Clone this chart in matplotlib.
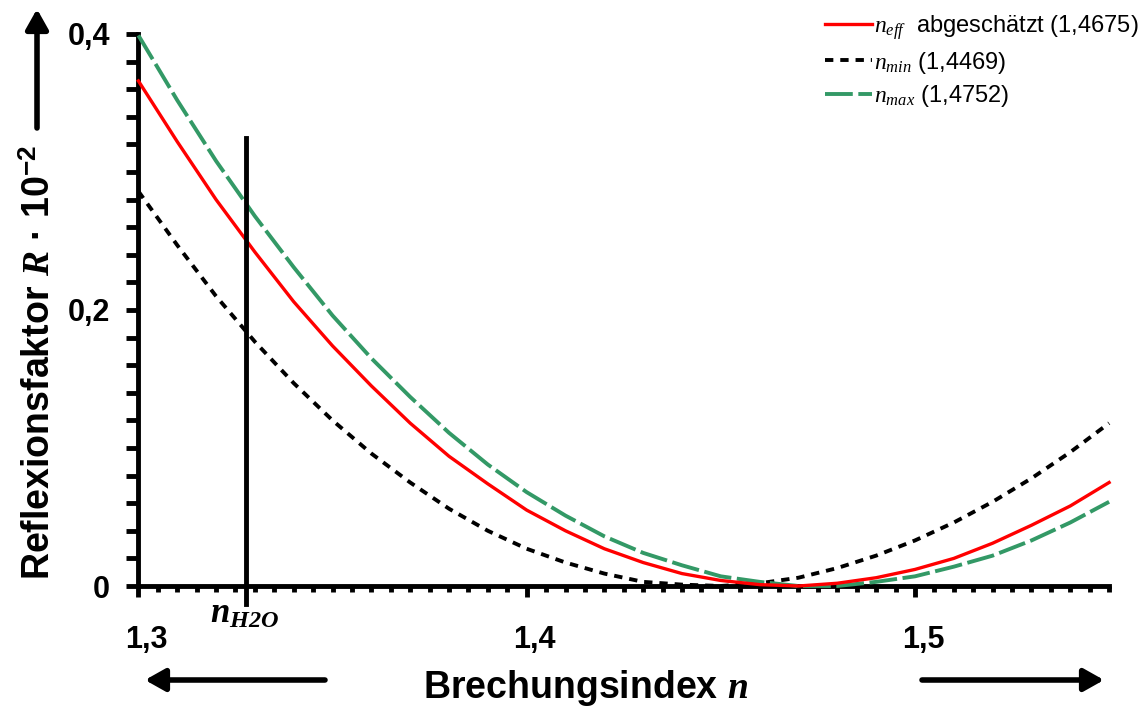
import numpy as np
import matplotlib
matplotlib.use("Agg")
import matplotlib.pyplot as plt
from matplotlib.ticker import MultipleLocator, FixedLocator
from matplotlib.transforms import ScaledTranslation

plt.rcParams['font.family'] = ['Liberation Sans', 'DejaVu Sans']
plt.rcParams['mathtext.fontset'] = 'custom'
plt.rcParams['mathtext.it'] = 'Liberation Serif:italic'
plt.rcParams['mathtext.bf'] = 'Liberation Serif:italic:bold'
plt.rcParams['mathtext.rm'] = 'Liberation Sans:bold'
plt.rcParams['lines.scale_dashes'] = False

# Brechungsindex n (x) and Reflexionsfaktor R * 10^-2
n_values = [1.30, 1.31, 1.32, 1.33, 1.34, 1.35, 1.36, 1.37, 1.38, 1.39,
            1.40, 1.41, 1.42, 1.43, 1.44, 1.45, 1.46, 1.47, 1.48, 1.49,
            1.50, 1.51, 1.52, 1.53, 1.54, 1.55]
r_eff = [0.366, 0.322, 0.280, 0.242, 0.206, 0.174, 0.145, 0.118, 0.094, 0.074,
         0.055, 0.040, 0.027, 0.017, 0.009, 0.004, 0.001, 0.000, 0.002, 0.006,
         0.012, 0.020, 0.031, 0.044, 0.058, 0.075]
r_min = [0.286, 0.247, 0.210, 0.177, 0.147, 0.120, 0.096, 0.075, 0.056, 0.040,
         0.027, 0.017, 0.009, 0.003, 0.001, 0.000, 0.002, 0.006, 0.013, 0.022,
         0.033, 0.046, 0.061, 0.078, 0.097, 0.118]
r_max = [0.399, 0.352, 0.308, 0.268, 0.231, 0.196, 0.165, 0.137, 0.111, 0.088,
         0.068, 0.051, 0.036, 0.024, 0.015, 0.007, 0.003, 0.000, 0.000, 0.003,
         0.007, 0.014, 0.022, 0.033, 0.046, 0.061]

labels = [r'$\mathit{n}_{\mathit{eff}}$  abgeschätzt (1,4675)',
          r'$\mathit{n}_{\mathit{min}}$ (1,4469)',
          r'$\mathit{n}_{\mathit{max}}$ (1,4752)']

n_h2o = 1.3276
h2o_top = 0.325

xticks = [1.3, 1.4, 1.5]
xticklabels = ['1,3', '1,4', '1,5']
yticks = [0.0, 0.2, 0.4]
yticklabels = ['0', '0,2', '0,4']

fig = plt.figure(figsize=(11.47, 7.09), dpi=100)
W, H = 1147, 709
ax = fig.add_axes([138.4 / W, (H - 586) / H, 970.7 / W, 552 / H])

l1, = ax.plot(n_values, r_eff, color='#FF0000', lw=2.4, clip_on=False, zorder=4)
l2, = ax.plot(n_values, r_min, color='black', lw=2.8, clip_on=False, zorder=3,
              dashes=(6, 5))
l3, = ax.plot(n_values, r_max, color='#339966', lw=2.8, clip_on=False, zorder=3,
              dashes=(20, 4))

ax.axvline(n_h2o, ymin=-0.032, ymax=h2o_top / 0.4, color='black', lw=3.5,
           clip_on=False, zorder=5)

ax.set_xlim(1.3, 1.55)
ax.set_ylim(0, 0.4)

for s in ['top', 'right']:
    ax.spines[s].set_visible(False)
for s in ['left', 'bottom']:
    ax.spines[s].set_linewidth(3.5)
    ax.spines[s].set_zorder(2)

ax.xaxis.set_major_locator(FixedLocator(xticks))
ax.set_xticklabels(xticklabels)
ax.xaxis.set_minor_locator(MultipleLocator(0.005))
ax.yaxis.set_major_locator(FixedLocator(yticks))
ax.set_yticklabels(yticklabels)
ax.yaxis.set_minor_locator(MultipleLocator(0.02))

ax.tick_params(axis='x', which='major', direction='out', length=8, width=3.5,
               pad=20, labelsize=22)
ax.tick_params(axis='x', which='minor', direction='out', length=4.3, width=3.5)
ax.tick_params(axis='y', which='both', direction='out', length=8.6, width=3.5,
               pad=12, labelsize=22)
for lab in ax.get_xticklabels() + ax.get_yticklabels():
    lab.set_fontweight('bold')
off = ScaledTranslation(8 / 100, 0, fig.dpi_scale_trans)
for lab in ax.get_xticklabels():
    lab.set_transform(lab.get_transform() + off)

# axis titles
fig.text(586 / W, 1 - 688 / H, r'Brechungsindex $\mathbf{n}$', fontsize=27,
         fontweight='bold', ha='center', va='center')
fig.text(40 / W, 1 - 362 / H, r'Reflexionsfaktor $\mathbf{R}$ · 10$^{\mathrm{-2}}$',
         fontsize=27, fontweight='bold', rotation=90, ha='center', va='center')
fig.text(245 / W, 1 - 614 / H, r'$\mathbf{n}_{\mathbf{H2O}}$', fontsize=25,
         ha='center', va='center')

# arrows
arrow_kw = dict(arrowstyle='-|>,head_length=0.8,head_width=0.45', color='black',
                lw=4, shrinkA=0, shrinkB=0, mutation_scale=15)
ax.annotate('', xy=(37, H - 9), xytext=(37, H - 128), xycoords='figure pixels',
            textcoords='figure pixels', arrowprops=arrow_kw, annotation_clip=False)
ax.annotate('', xy=(145, H - 680), xytext=(325, H - 680), xycoords='figure pixels',
            textcoords='figure pixels', arrowprops=arrow_kw, annotation_clip=False)
ax.annotate('', xy=(1104, H - 680), xytext=(922, H - 680), xycoords='figure pixels',
            textcoords='figure pixels', arrowprops=arrow_kw, annotation_clip=False)

ax.legend([l1, l2, l3], labels, loc='upper right',
          bbox_to_anchor=(1139 / W, 1 - 13 / H), bbox_transform=fig.transFigure,
          frameon=False, fontsize=17, handlelength=2.0, handletextpad=0.1,
          labelspacing=0.33, borderpad=0, borderaxespad=0)

fig.savefig('out.png', dpi=100)
